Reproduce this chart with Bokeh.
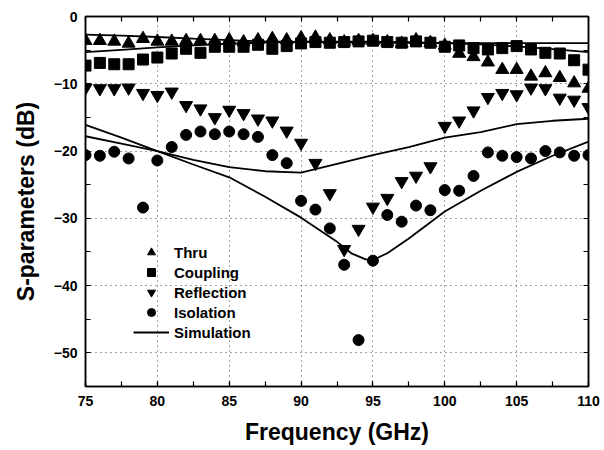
from bokeh.plotting import figure
from bokeh.models import (Range1d, LinearAxis, SingleIntervalTicker, FixedTicker, Legend,
                          LegendItem)
from bokeh.embed import file_html
from bokeh.resources import INLINE

# ---------------- data ----------------
freq = [75, 76, 77, 78, 79, 80, 81, 82, 83, 84, 85, 86, 87, 88, 89, 90, 91, 92,
        93, 94, 95, 96, 97, 98, 99, 100, 101, 102, 103, 104, 105, 106, 107, 108, 109, 110]

thru = [-3.6, -3.6, -3.7, -4.0, -3.3, -3.7, -3.7, -3.6, -3.6, -3.6, -3.5,
        -3.8, -3.5, -3.3, -3.5, -3.2, -3.1, -3.5, -3.8, -3.6, -3.6, -3.8, -4.0, -3.5, -3.9, -4.3,
        -5.5, -6.0, -6.8, -7.9, -7.9, -8.9, -8.4, -9.1, -9.9, -10.7]

coupling = [-7.3, -6.9, -7.1, -7.1, -6.4, -6.1, -5.5, -4.8, -5.4, -4.5, -4.5,
            -4.5, -4.2, -4.8, -4.4, -4.0, -3.8, -3.9, -3.8, -3.7, -3.6, -3.8, -3.9, -3.7, -3.9, -4.5,
            -4.3, -4.7, -4.9, -4.7, -4.4, -4.9, -5.4, -5.5, -6.5, -7.9]

reflection = [-10.6, -10.7, -10.7, -10.6, -11.4, -11.7, -11.2, -13.2, -13.7, -15.0, -13.9,
              -14.4, -15.2, -15.5, -17.0, -18.8, -21.8, -26.3, -34.6, -31.6, -28.3, -27.0, -24.5,
              -23.7, -22.3, -16.3, -15.5, -14.0, -12.0, -11.4, -11.6, -10.6, -10.7, -12.1, -12.4, -13.5]

isolation = [-20.6, -20.7, -20.1, -21.1, -28.4, -21.4, -19.4, -17.6, -17.1, -17.5, -17.1,
             -17.5, -17.9, -20.6, -21.8, -27.4, -28.7, -31.5, -36.9, -48.1, -36.3, -29.5, -30.5,
             -28.1, -28.8, -25.8, -25.9, -23.7, -20.2, -20.7, -20.9, -21.1, -20.0, -20.2, -20.7, -20.6]

# simulation curves
sim_freq = [75, 77.5, 80, 82.5, 85, 87.5, 90, 92.5, 95, 97.5, 100, 102.5, 105, 107.5, 110]
thru_sim = [-2.7, -2.85, -3.05, -3.3, -3.5, -3.7, -3.8, -3.85, -3.9, -3.9, -3.95, -3.95, -3.95, -3.95, -3.95]
coupling_sim = [-5.3, -4.95, -4.6, -4.3, -4.05, -3.85, -3.8, -3.75, -3.75, -3.8, -3.95, -4.15, -4.45, -4.85, -5.3]
reflection_sim = [-17.8, -18.9, -20.0, -21.3, -22.4, -23.0, -23.2, -21.9, -20.6, -19.4, -18.0, -17.2, -16.0, -15.5, -15.2]

iso_sim_freq = [75, 77.5, 80, 82.5, 85, 87.5, 90, 92.5, 93.5, 94.5, 95, 96, 97.5, 100, 102.5, 105, 107.5, 110]
isolation_sim = [-16.1, -18.0, -20.0, -22.0, -23.9, -26.8, -29.9, -33.5, -35.2, -36.1, -36.2, -35.2,
                 -33.0, -29.0, -25.9, -23.1, -20.7, -18.6]

legend_labels = ["Thru", "Coupling", "Reflection", "Isolation", "Simulation"]

# tick positions of the mirrored (unlabelled) top and right axes
top_ticks = [75, 77.5, 80, 82.5, 85, 87.5, 90, 92.5, 95, 97.5, 100, 102.5, 105, 107.5, 110]
right_ticks = [0, -5, -10, -15, -20, -25, -30, -35, -40, -45, -50, -55]

# ---------------- figure ----------------
FONT = "Liberation Sans"

p = figure(width=604, height=450, x_range=Range1d(75, 110), y_range=Range1d(-55, 0),
           output_backend="svg", toolbar_location=None,
           min_border_left=85, min_border_right=16, min_border_top=16, min_border_bottom=64,
           x_axis_label="Frequency (GHz)", y_axis_label="S-parameters (dB)")
p.background_fill_color = "white"
p.border_fill_color = "white"
p.outline_line_color = "black"
p.outline_line_width = 1.5

xt = SingleIntervalTicker(interval=5, num_minor_ticks=2)
yt = SingleIntervalTicker(interval=10, num_minor_ticks=2)


def style_ticks(ax):
    ax.axis_line_color = "black"
    ax.axis_line_width = 1.5
    ax.major_tick_in = 5
    ax.major_tick_out = 0
    ax.minor_tick_in = 5
    ax.minor_tick_out = 0
    ax.major_tick_line_color = "black"
    ax.minor_tick_line_color = "black"
    ax.major_tick_line_width = 1.2
    ax.minor_tick_line_width = 1.2


p.xaxis.ticker = xt
p.yaxis.ticker = yt
for ax in list(p.xaxis) + list(p.yaxis):
    style_ticks(ax)
    ax.major_label_text_font = FONT
    ax.major_label_text_font_style = "bold"
    ax.major_label_text_font_size = "14px"
    ax.major_label_text_color = "black"
    ax.axis_label_text_font = FONT
    ax.axis_label_text_font_style = "bold"
    ax.axis_label_text_font_size = "23px"
    ax.axis_label_text_color = "black"
for ax in p.xaxis:
    ax.major_label_standoff = 9
    ax.axis_label_standoff = 10
for ax in p.yaxis:
    ax.major_label_standoff = 8
    ax.axis_label_standoff = 12

# mirrored axes: only (minor) ticks, so no labels are drawn
top_axis = LinearAxis(ticker=FixedTicker(ticks=[], minor_ticks=top_ticks))
style_ticks(top_axis)
right_axis = LinearAxis(ticker=FixedTicker(ticks=[], minor_ticks=right_ticks))
style_ticks(right_axis)
p.add_layout(top_axis, "above")
p.add_layout(right_axis, "right")

p.xgrid.ticker = xt
p.ygrid.ticker = yt
for g in (p.xgrid, p.ygrid):
    g.grid_line_color = "#444444"
    g.grid_line_dash = "1 4"
    g.grid_line_width = 1

# ---------------- simulation lines ----------------
sim_r = p.line(sim_freq, thru_sim, line_color="black", line_width=1.8)
p.line(sim_freq, coupling_sim, line_color="black", line_width=1.8)
p.line(sim_freq, reflection_sim, line_color="black", line_width=1.8)
p.line(iso_sim_freq, isolation_sim, line_color="black", line_width=1.8)

# ---------------- measured markers ----------------
r_thru = p.scatter(freq, thru, marker="triangle", size=13, color="black")
r_coup = p.scatter(freq, coupling, marker="square", size=11, color="black")
r_refl = p.scatter(freq, reflection, marker="inverted_triangle", size=13, color="black")
r_iso = p.scatter(freq, isolation, marker="circle", size=11, color="black")

legend = Legend(items=[LegendItem(label=legend_labels[0], renderers=[r_thru]),
                       LegendItem(label=legend_labels[1], renderers=[r_coup]),
                       LegendItem(label=legend_labels[2], renderers=[r_refl]),
                       LegendItem(label=legend_labels[3], renderers=[r_iso]),
                       LegendItem(label=legend_labels[4], renderers=[sim_r])],
                location=(48, 44))
legend.background_fill_alpha = 0
legend.border_line_alpha = 0
legend.padding = 0
legend.margin = 0
legend.spacing = 0
legend.glyph_width = 36
legend.glyph_height = 20
legend.label_height = 20
legend.label_standoff = 5
legend.label_text_font = FONT
legend.label_text_font_style = "bold"
legend.label_text_font_size = "15px"
legend.label_text_color = "black"
p.add_layout(legend, "center")

open("out.html", "w").write(file_html(p, INLINE))
